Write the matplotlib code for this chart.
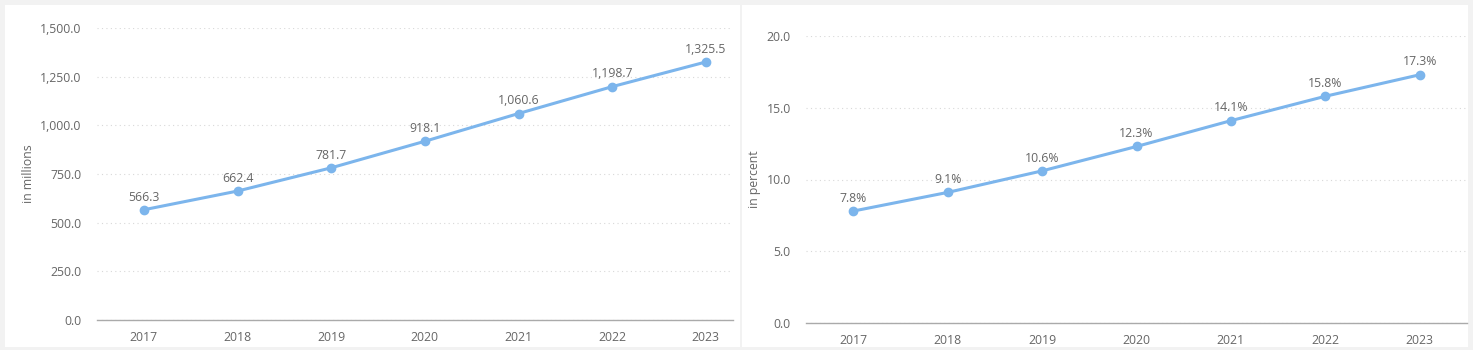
import matplotlib.pyplot as plt
from matplotlib.patches import Rectangle
from matplotlib.ticker import FuncFormatter

years = ['2017', '2018', '2019', '2020', '2021', '2022', '2023']
users_millions = [566.3, 662.4, 781.7, 918.1, 1060.6, 1198.7, 1325.5]
share_percent = [7.8, 9.1, 10.6, 12.3, 14.1, 15.8, 17.3]

LINE = '#7cb5ec'
TEXT = '#666666'
GRID = '#d8d8d8'

plt.rcParams['font.family'] = ['Open Sans', 'DejaVu Sans']

W, H = 1473, 350
fig = plt.figure(figsize=(W / 100, H / 100), dpi=100, facecolor='#f2f2f2')

# white card behind each chart
for x0, x1 in [(5, 740), (742, 1468)]:
    fig.patches.append(Rectangle((x0 / W, 3 / H), (x1 - x0) / W, (H - 8) / H,
                                 transform=fig.transFigure, facecolor='white',
                                 edgecolor='none', zorder=-10))


def draw(ax, values, ymax, step, ylabel, fmt_tick, fmt_label, xlim):
    xs = range(len(years))
    ax.plot(xs, values, color=LINE, lw=2.2, marker='o', ms=6, zorder=3,
            solid_capstyle='round')
    for x, v in zip(xs, values):
        ax.annotate(fmt_label(v), (x, v), xytext=(0, 4.5), textcoords='offset points',
                    ha='center', va='bottom', fontsize=8.8, color=TEXT)
    ax.set_xlim(*xlim)
    ax.set_ylim(0, ymax)
    ax.set_xticks(list(xs))
    ax.set_xticklabels(years)
    ax.set_yticks([i * step for i in range(int(ymax / step) + 1)])
    ax.yaxis.set_major_formatter(FuncFormatter(lambda v, p: fmt_tick(v)))
    ax.tick_params(length=0, labelsize=8.8, colors=TEXT)
    ax.tick_params(axis='y', pad=11)
    ax.tick_params(axis='x', pad=8)
    ax.grid(axis='y', color=GRID, ls=(0, (1, 3)), lw=0.8)
    ax.set_axisbelow(True)
    for s in ['top', 'right', 'left']:
        ax.spines[s].set_visible(False)
    ax.spines['bottom'].set_color('#aaaaaa')
    ax.spines['bottom'].set_linewidth(1)
    ax.set_facecolor('none')
    ax.set_ylabel(ylabel, fontsize=8.8, color=TEXT, labelpad=4)


ax1 = fig.add_axes([97 / W, 30 / H, 636 / W, 292 / H])
draw(ax1, users_millions, 1500, 250, 'in millions',
     lambda v: f'{v:,.1f}', lambda v: f'{v:,.1f}', (-0.5, 6.29))

ax2 = fig.add_axes([806 / W, 27 / H, 661 / W, 287 / H])
draw(ax2, share_percent, 20, 5, 'in percent',
     lambda v: f'{v:.1f}', lambda v: f'{v:.1f}%', (-0.5, 6.5))

fig.savefig('out.png', dpi=100, facecolor=fig.get_facecolor())
